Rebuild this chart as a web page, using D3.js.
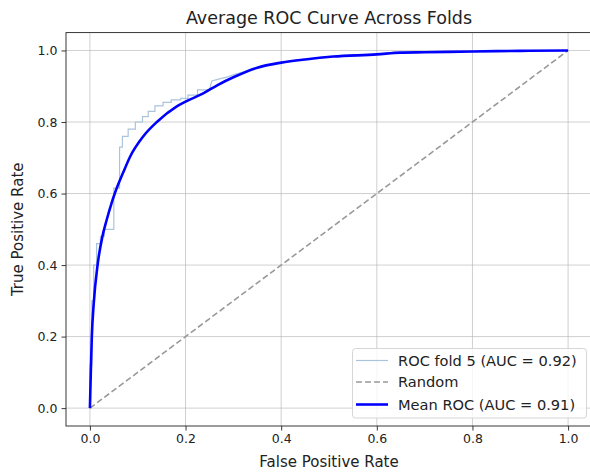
<!DOCTYPE html>
<html>
<head>
<meta charset="utf-8">
<script src="https://cdn.jsdelivr.net/npm/d3@7"></script>
<style>
  html, body { margin: 0; padding: 0; background: #fff; }
  svg { display: block; font-family: "DejaVu Sans", sans-serif; }
</style>
</head>
<body>
<svg id="chart" width="590" height="473"></svg>
<script>
// Mean ROC across folds (false positive rate, true positive rate)
const meanFpr = [0, 0.002, 0.004, 0.008, 0.016, 0.026, 0.035, 0.045, 0.052, 0.070, 0.084, 0.111, 0.140, 0.181, 0.200, 0.237, 0.268, 0.300, 0.350, 0.400, 0.450, 0.509, 0.600, 0.649, 0.700, 0.800, 0.900, 1.0];
const meanTpr = [0, 0.106, 0.200, 0.293, 0.400, 0.479, 0.526, 0.572, 0.600, 0.660, 0.703, 0.759, 0.800, 0.843, 0.857, 0.880, 0.904, 0.925, 0.952, 0.966, 0.975, 0.983, 0.989, 0.994, 0.995, 0.997, 0.999, 1.0];

// ROC curve of fold 5
const foldFpr = [0, 0, 0.004, 0.004, 0.008, 0.008, 0.014, 0.014, 0.022, 0.022, 0.030, 0.030, 0.050, 0.050, 0.062, 0.062, 0.068, 0.068, 0.080, 0.080, 0.095, 0.095, 0.110, 0.110, 0.122, 0.122, 0.136, 0.136, 0.153, 0.153, 0.170, 0.170, 0.190, 0.190, 0.205, 0.205, 0.225, 0.225, 0.250, 0.255, 0.275, 0.285, 0.300, 0.350, 0.400, 0.450, 0.500, 0.550, 0.600, 0.650, 0.700, 0.800, 0.900, 1.0];
const foldTpr = [0, 0.120, 0.120, 0.300, 0.300, 0.400, 0.400, 0.460, 0.460, 0.480, 0.480, 0.500, 0.500, 0.615, 0.615, 0.730, 0.730, 0.760, 0.760, 0.780, 0.780, 0.800, 0.800, 0.815, 0.815, 0.830, 0.830, 0.845, 0.845, 0.855, 0.855, 0.862, 0.862, 0.866, 0.866, 0.875, 0.875, 0.890, 0.890, 0.915, 0.922, 0.925, 0.932, 0.952, 0.967, 0.976, 0.983, 0.987, 0.990, 0.994, 0.996, 0.997, 0.999, 1.0];

// Chance diagonal
const randomFpr = [0, 1];
const randomTpr = [0, 1];

const xTicks = [0, 0.2, 0.4, 0.6, 0.8, 1.0];
const yTicks = [0, 0.2, 0.4, 0.6, 0.8, 1.0];

const legendLabels = ["ROC fold 5 (AUC = 0.92)", "Random", "Mean ROC (AUC = 0.91)"];

const svg = d3.select("#chart");
const plot = { left: 66, right: 592, top: 32.6, bottom: 426 };

const x = d3.scaleLinear().domain([-0.05, 1.05]).range([plot.left, plot.right]);
const y = d3.scaleLinear().domain([-0.05, 1.05]).range([plot.bottom, plot.top]);

svg.append("defs").append("clipPath").attr("id", "plotClip")
  .append("rect")
  .attr("x", plot.left).attr("y", plot.top)
  .attr("width", plot.right - plot.left).attr("height", plot.bottom - plot.top);

// Grid
const grid = svg.append("g");
grid.selectAll("line.gx").data(xTicks).join("line")
  .attr("x1", d => x(d)).attr("x2", d => x(d))
  .attr("y1", plot.top).attr("y2", plot.bottom)
  .attr("stroke", "#b0b0b0").attr("stroke-opacity", 0.6).attr("stroke-width", 1);
grid.selectAll("line.gy").data(yTicks).join("line")
  .attr("y1", d => y(d)).attr("y2", d => y(d))
  .attr("x1", plot.left).attr("x2", plot.right)
  .attr("stroke", "#b0b0b0").attr("stroke-opacity", 0.6).attr("stroke-width", 1);

const lines = svg.append("g").attr("clip-path", "url(#plotClip)");
const lineGen = d3.line().x(d => x(d[0])).y(d => y(d[1]));
const smoothGen = d3.line().x(d => x(d[0])).y(d => y(d[1])).curve(d3.curveMonotoneX);

// Fold 5 curve
lines.append("path")
  .datum(d3.zip(foldFpr, foldTpr))
  .attr("d", lineGen)
  .attr("fill", "none").attr("stroke", "#aac4dc").attr("stroke-width", 1.2);

// Random
lines.append("path")
  .datum(d3.zip(randomFpr, randomTpr))
  .attr("d", lineGen)
  .attr("fill", "none").attr("stroke", "#999999").attr("stroke-width", 1.6)
  .attr("stroke-dasharray", "6,3");

// Mean ROC
lines.append("path")
  .datum(d3.zip(meanFpr, meanTpr))
  .attr("d", smoothGen)
  .attr("fill", "none").attr("stroke", "#0000ff").attr("stroke-width", 2.6)
  .attr("stroke-linejoin", "round");

// Axes
const fmt = d3.format(".1f");
const xAxis = svg.append("g").attr("transform", `translate(0,${plot.bottom})`)
  .call(d3.axisBottom(x).tickValues(xTicks).tickFormat(fmt).tickSize(4.5).tickPadding(4));
const yAxis = svg.append("g").attr("transform", `translate(${plot.left},0)`)
  .call(d3.axisLeft(y).tickValues(yTicks).tickFormat(fmt).tickSize(4.5).tickPadding(4));
[xAxis, yAxis].forEach(a => {
  a.select(".domain").remove();
  a.selectAll("text").attr("font-size", 12.5).attr("fill", "#222").attr("font-family", "DejaVu Sans, sans-serif");
  a.selectAll("line").attr("stroke", "#222").attr("stroke-width", 0.9);
});

// Frame
svg.append("rect")
  .attr("x", plot.left).attr("y", plot.top)
  .attr("width", plot.right - plot.left).attr("height", plot.bottom - plot.top)
  .attr("fill", "none").attr("stroke", "#222").attr("stroke-width", 0.9);

// Title and axis labels
svg.append("text").attr("x", (plot.left + plot.right) / 2).attr("y", 24)
  .attr("text-anchor", "middle").attr("font-size", 17.5).attr("fill", "#222")
  .text("Average ROC Curve Across Folds");
svg.append("text").attr("x", (plot.left + plot.right) / 2).attr("y", 467)
  .attr("text-anchor", "middle").attr("font-size", 15).attr("fill", "#222")
  .text("False Positive Rate");
svg.append("text").attr("transform", `translate(23,${(plot.top + plot.bottom) / 2}) rotate(-90)`)
  .attr("text-anchor", "middle").attr("font-size", 15).attr("fill", "#222")
  .text("True Positive Rate");

// Legend
const legend = svg.append("g");
legend.append("rect")
  .attr("x", 352.5).attr("y", 348.5).attr("width", 234).attr("height", 69.5)
  .attr("rx", 3).attr("fill", "#fff").attr("fill-opacity", 0.8)
  .attr("stroke", "#d6d6d6").attr("stroke-width", 1);
const legendStyles = [
  { stroke: "#aac4dc", width: 1.2, dash: null },
  { stroke: "#999999", width: 1.6, dash: "6,3" },
  { stroke: "#0000ff", width: 2.6, dash: null }
];
const rowY = [360.5, 382, 404.5];
legendLabels.forEach((label, i) => {
  legend.append("line")
    .attr("x1", 356).attr("x2", 388).attr("y1", rowY[i]).attr("y2", rowY[i])
    .attr("stroke", legendStyles[i].stroke).attr("stroke-width", legendStyles[i].width)
    .attr("stroke-dasharray", legendStyles[i].dash);
  legend.append("text").attr("x", 398).attr("y", rowY[i]).attr("dy", "0.35em")
    .attr("font-size", 14.6).attr("fill", "#222").text(label);
});
</script>
</body>
</html>
